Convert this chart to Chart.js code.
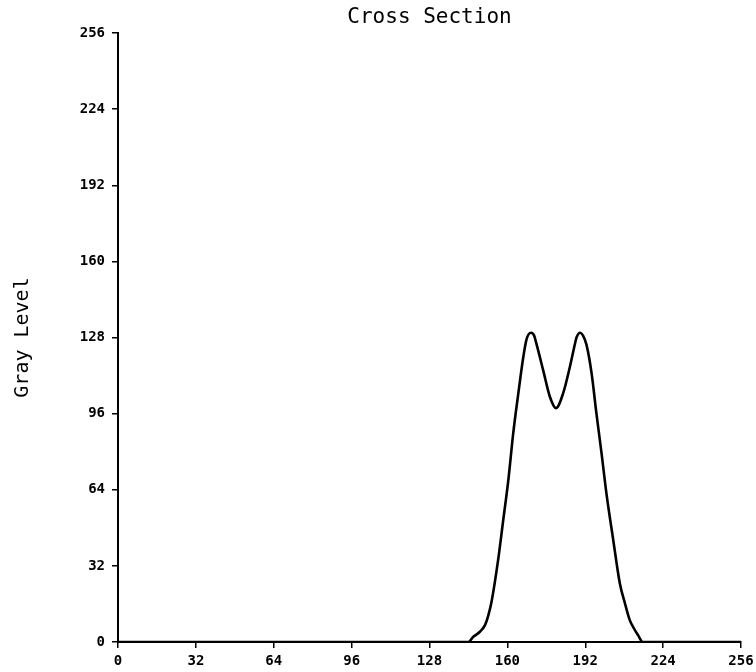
<!DOCTYPE html>
<html lang="en">
<head>
    <meta charset="UTF-8">
    <title>Cross Section</title>
    <style>
        body {
            margin: 0;
            background: #fff;
        }
        canvas {
            display: block;
        }
    </style>
    <script src="https://cdn.jsdelivr.net/npm/chart.js"></script>
</head>
<body>
    <canvas id="crossChart" width="756" height="672"></canvas>
    <script>
        // Pixel position along the cross section and its gray level
        const positions = [0, 144, 146, 148.7, 150.8, 152.2, 153.5, 156.2, 158.3, 160.4, 162.4, 164.5, 166.5,
                           167.9, 169.7, 171, 171.9, 174.7, 177.5, 180, 182.9, 185.7, 187.8, 188.4,
                           189.9, 191.1, 192.5, 194.6, 196.6, 198.7, 200.7, 203.5, 206.2, 208.3,
                           210.3, 212.4, 213.7, 215.6, 256];
        const grayLevels = [0, 0, 2.2, 4.3, 7.1, 11.3, 16.9, 34.5, 51.3, 68.1, 87.7, 104.5, 119.5,
                            127.3, 130, 128.8, 125.5, 114.3, 103, 98.3, 104.5, 115.7, 125.5, 128,
                            130, 128.8, 125, 113, 96, 79.3, 62.5, 42.9, 24.7, 16.3,
                            9.2, 5.0, 2.9, 0, 0];
        const tickStep = 32; // both axes run 0..256 in steps of 32
        const chartTitle = 'Cross Section';

        const plotFont = 'DejaVu Sans Mono';

        // title centred over the plot area rather than the whole canvas
        const plotTitle = {
            id: 'plotTitle',
            afterDraw(chart) {
                const { ctx, chartArea } = chart;
                ctx.save();
                ctx.font = '21px ' + plotFont;
                ctx.fillStyle = '#000';
                ctx.textAlign = 'center';
                ctx.textBaseline = 'middle';
                ctx.fillText(chartTitle, (chartArea.left + chartArea.right) / 2, 18);
                ctx.restore();
            }
        };

        const ctx = document.getElementById('crossChart').getContext('2d');
        new Chart(ctx, {
            type: 'line',
            data: {
                datasets: [{
                    data: positions.map((x, i) => ({ x: x, y: grayLevels[i] })),
                    borderColor: '#000',
                    borderWidth: 2.6,
                    pointRadius: 0,
                    cubicInterpolationMode: 'monotone',
                    fill: false
                }]
            },
            plugins: [plotTitle],
            options: {
                responsive: false,
                animation: false,
                layout: { padding: { left: 0, right: 15, top: 33, bottom: 0 } },
                plugins: {
                    legend: { display: false },
                    tooltip: { enabled: false },
                    title: { display: false }
                },
                scales: {
                    x: {
                        type: 'linear',
                        min: 0,
                        max: 256,
                        afterFit: (scale) => {
                            scale.height = 30;
                            scale.paddingRight = 12; // let the "256" label hang past the axis end
                        },
                        ticks: {
                            stepSize: tickStep,
                            color: '#000',
                            font: { family: plotFont, size: 14, weight: 'bold' },
                            padding: 5,
                            maxRotation: 0,
                            autoSkip: false
                        },
                        grid: {
                            drawOnChartArea: false,
                            drawTicks: true,
                            tickLength: 6,
                            color: '#000',
                            lineWidth: 1.5
                        },
                        border: { color: '#000', width: 2 }
                    },
                    y: {
                        type: 'linear',
                        min: 0,
                        max: 256,
                        afterFit: (scale) => { scale.width = 118; },
                        title: {
                            display: true,
                            text: 'Gray Level',
                            color: '#000',
                            font: { family: plotFont, size: 20, weight: 'normal' },
                            padding: { top: 11, bottom: 0 }
                        },
                        ticks: {
                            stepSize: tickStep,
                            color: '#000',
                            font: { family: plotFont, size: 14, weight: 'bold' },
                            padding: 7
                        },
                        grid: {
                            drawOnChartArea: false,
                            drawTicks: true,
                            tickLength: 6,
                            color: '#000',
                            lineWidth: 1.5
                        },
                        border: { color: '#000', width: 2 }
                    }
                }
            }
        });
    </script>
</body>
</html>
